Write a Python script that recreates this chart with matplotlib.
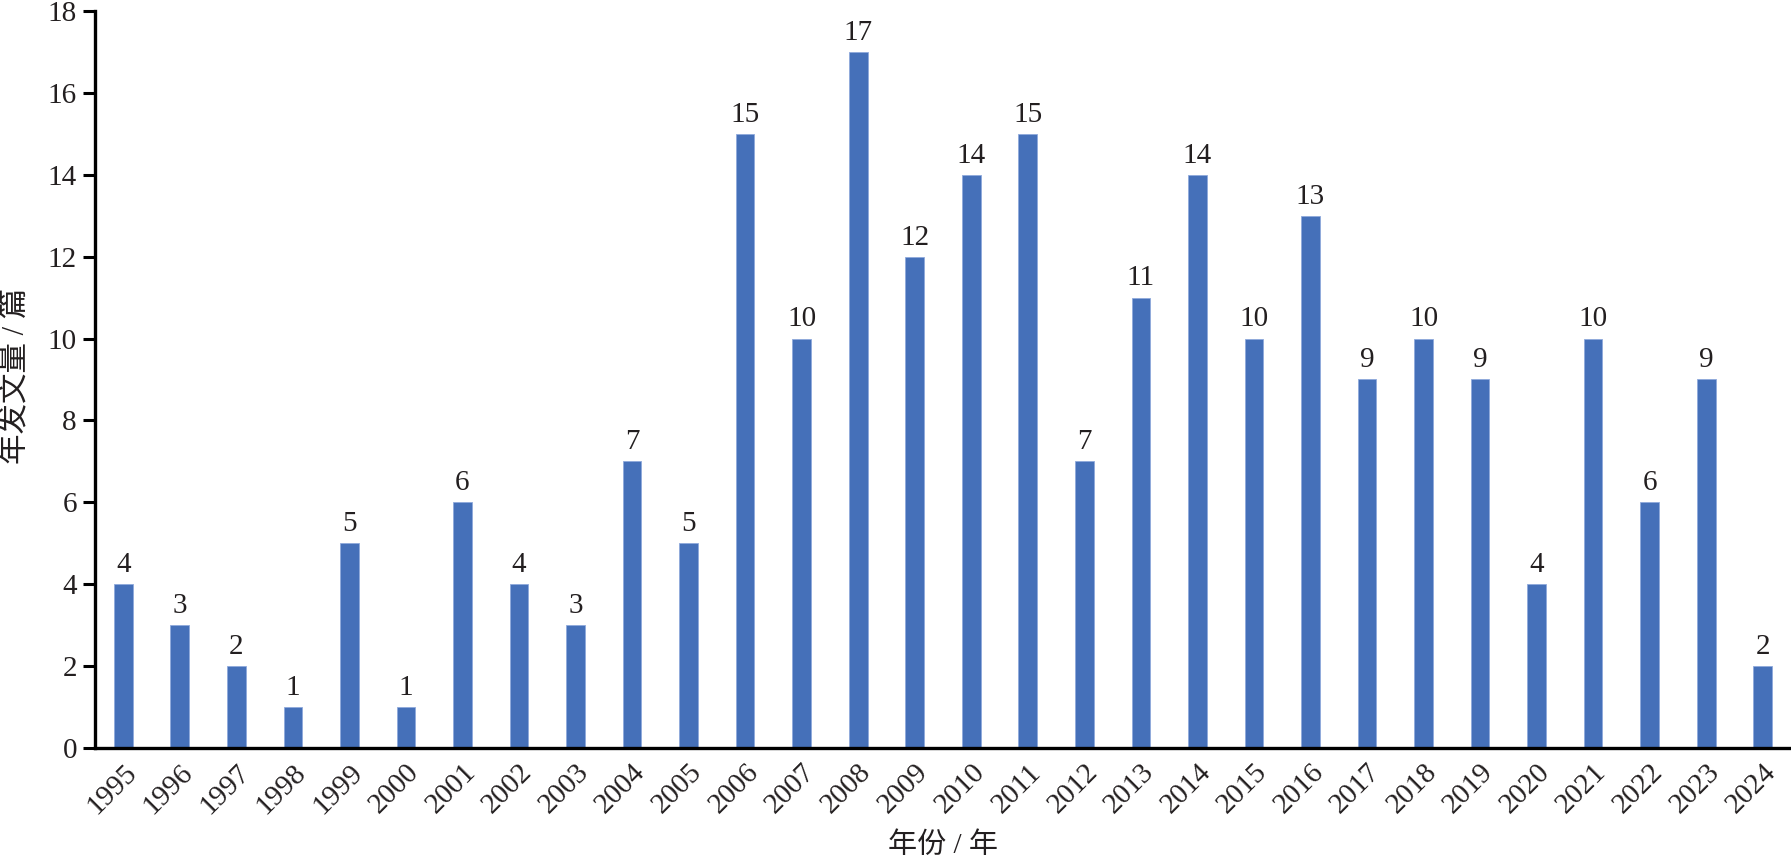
import matplotlib
matplotlib.use("Agg")
import matplotlib.pyplot as plt
import numpy as np

plt.rcParams['font.family'] = ['Liberation Serif', 'Noto Sans CJK SC']

years = [str(y) for y in range(1995, 2025)]
counts = [4, 3, 2, 1, 5, 1, 6, 4, 3, 7, 5, 15, 10, 17, 12, 14, 15, 7, 11, 14,
          10, 13, 9, 10, 9, 4, 10, 6, 9, 2]

fs = 21
txt_color = '#231f20'

fig = plt.figure(figsize=(17.91, 8.64), dpi=100)
ax = fig.add_axes([95 / 1791, 1 - 748 / 864, 1 - 95 / 1791, (748 - 11) / 864])

x = np.arange(len(years))
ax.bar(x, counts, width=0.33, color='#4570B9', edgecolor='#8fa9dc', linewidth=0.6)

for xi, v in zip(x, counts):
    ax.text(xi, v + 0.15, str(v), ha='center', va='bottom', fontsize=fs, color=txt_color)

ax.set_xlim(-0.5, len(years) - 0.5)
ax.set_ylim(0, 18)
ax.set_yticks(range(0, 19, 2))
ax.set_xticks(x)
ax.set_xticklabels(years, rotation=45, ha='right', rotation_mode='anchor', fontsize=fs, color=txt_color)
ax.tick_params(axis='y', labelsize=fs, length=9, width=2.2, colors='#000000', labelcolor=txt_color, pad=4)
ax.tick_params(axis='x', length=0, pad=8)

for s in ['top', 'right']:
    ax.spines[s].set_visible(False)
for s in ['left', 'bottom']:
    ax.spines[s].set_linewidth(2.4)
    ax.spines[s].set_color('#000000')

fig.text(943 / 1791, 1 - 846 / 864, '年份 / 年', ha='center', va='center', fontsize=fs,
         color=txt_color)
fig.text(16 / 1791, 1 - 376 / 864, '年发文量 / 篇', ha='center', va='center', rotation=90,
         fontsize=22, color=txt_color)

fig.savefig('out.png', dpi=100)
